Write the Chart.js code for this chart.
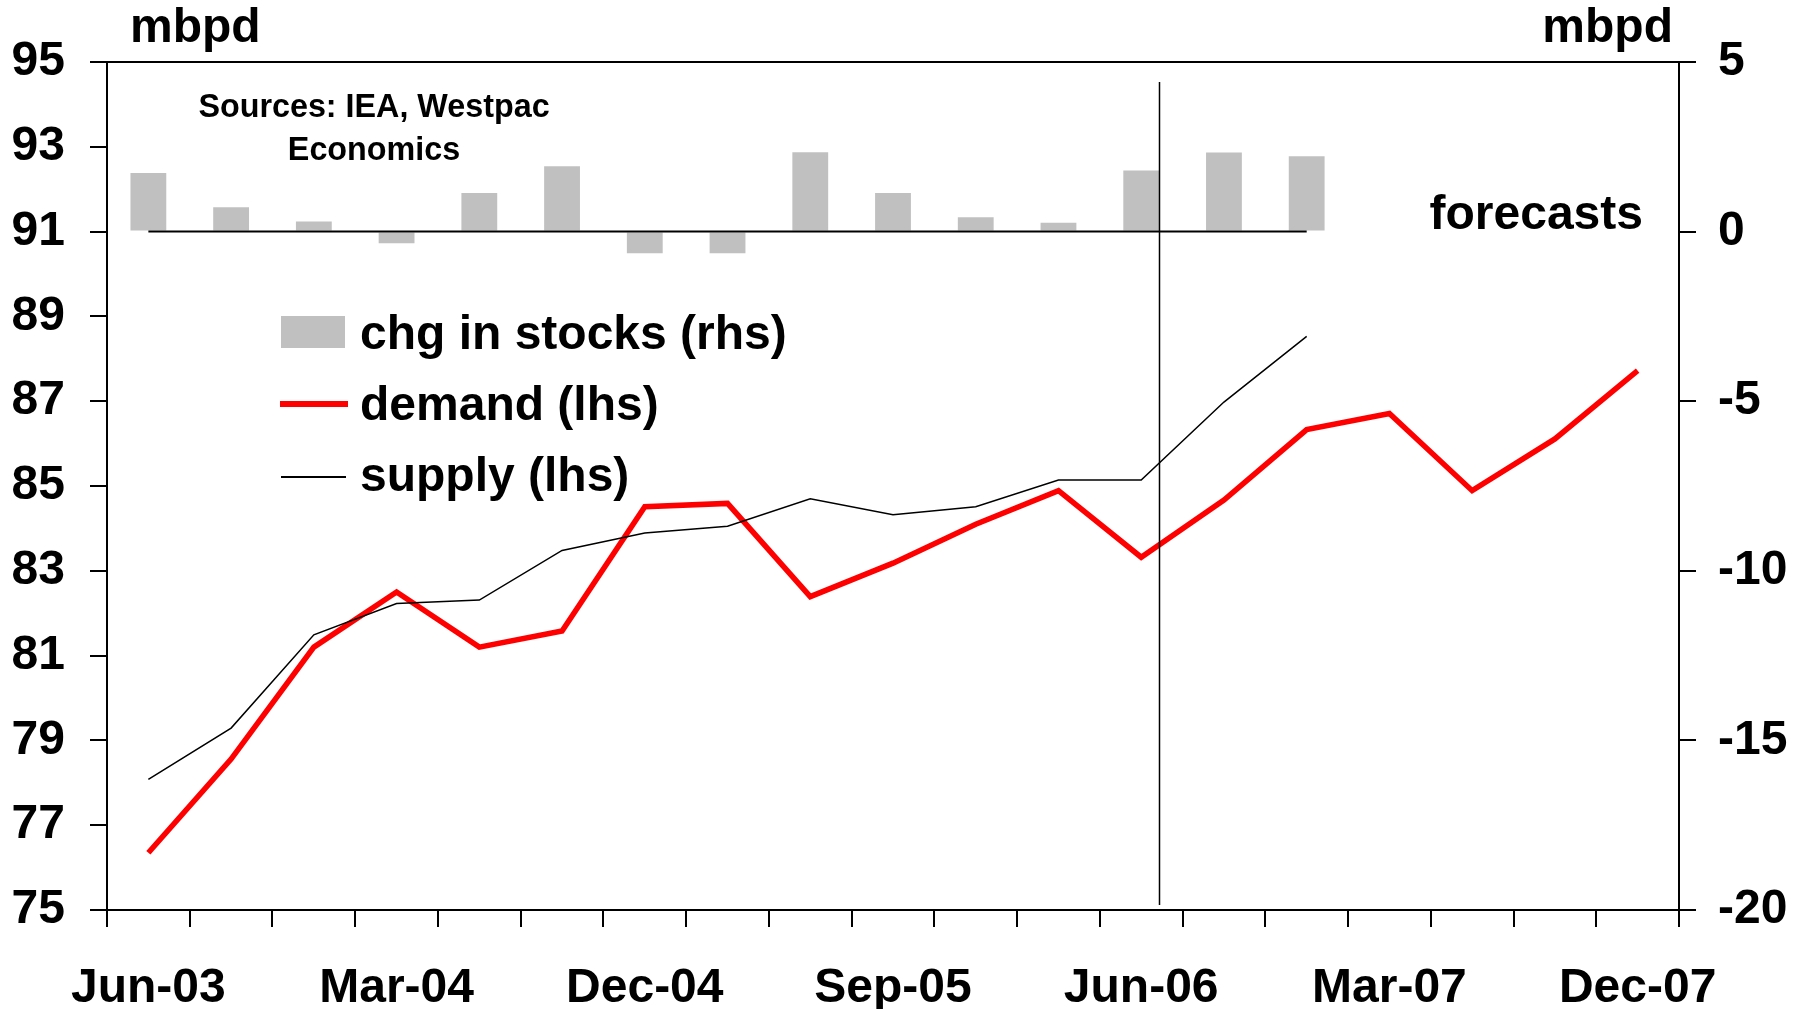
<!DOCTYPE html>
<html>
<head>
<meta charset="utf-8">
<title>World oil demand and supply</title>
<script src="https://cdn.jsdelivr.net/npm/chart.js@4.4.1/dist/chart.umd.min.js"></script>
<style>
  html, body { margin: 0; padding: 0; background: #fff; }
  #wrap { position: relative; width: 1807px; height: 1009px; overflow: hidden; }
  #chart { position: absolute; left: 0; top: 0; }
  .txt {
    position: absolute;
    font-family: "Liberation Sans", Arial, sans-serif;
    font-weight: bold;
    font-size: 48px;
    line-height: 1;
    color: #000;
    white-space: nowrap;
  }
  .src {
    position: absolute;
    left: 374px;
    top: 85px;
    transform: translateX(-50%);
    text-align: center;
    font-family: "Liberation Sans", Arial, sans-serif;
    font-weight: bold;
    font-size: 32.3px;
    line-height: 43px;
    white-space: nowrap;
  }
  .mark { position: absolute; }
</style>
</head>
<body>
<div id="wrap">
  <canvas id="chart" width="1807" height="1009"></canvas>

  <div class="txt" style="left:130px; top:2px;">mbpd</div>
  <div class="txt" style="right:134px; top:2px;">mbpd</div>
  <div class="src">Sources: IEA, Westpac<br>Economics</div>
  <div class="txt" style="right:164px; top:189px;">forecasts</div>

  <!-- legend -->
  <div class="mark" style="left:281px; top:316px; width:64px; height:32px; background:#C0C0C0;"></div>
  <div class="txt" style="left:360px; top:309px;">chg in stocks (rhs)</div>
  <div class="mark" style="left:280px; top:401px; width:68px; height:6px; background:#FF0000;"></div>
  <div class="txt" style="left:360px; top:380px;">demand (lhs)</div>
  <div class="mark" style="left:281px; top:476px; width:65px; height:2px; background:#000;"></div>
  <div class="txt" style="left:360px; top:451px;">supply (lhs)</div>
</div>

<script>
// quarterly categories, Jun-03 .. Dec-07
const quarters = ['Jun-03', 'Sep-03', 'Dec-03', 'Mar-04', 'Jun-04', 'Sep-04', 'Dec-04',
                  'Mar-05', 'Jun-05', 'Sep-05', 'Dec-05', 'Mar-06', 'Jun-06', 'Sep-06',
                  'Dec-06', 'Mar-07', 'Jun-07', 'Sep-07', 'Dec-07'];
// only every third quarter gets a label
const xTickLabels = ['Jun-03', 'Mar-04', 'Dec-04', 'Sep-05', 'Jun-06', 'Mar-07', 'Dec-07'];

// change in stocks, mbpd (rhs)
const stockChange = [1.73, 0.72, 0.30, -0.34, 1.14, 1.93, -0.64, -0.64, 2.34, 1.14,
                     0.42, 0.26, 1.80, 2.33, 2.22];
// demand, mbpd (lhs)
const demand = [76.35, 78.56, 81.20, 82.50, 81.20, 81.58, 84.51, 84.59, 82.39, 83.18,
                84.10, 84.89, 83.32, 84.67, 86.33, 86.71, 84.89, 86.11, 87.72];
// supply, mbpd (lhs)
const supply = [78.08, 79.29, 81.49, 82.23, 82.31, 83.48, 83.89, 84.05, 84.70, 84.32,
                84.51, 85.14, 85.14, 86.98, 88.53];

// axis ranges
const lhsRange = [75, 95, 2];
const rhsRange = [-20, 5, 5];

// last actual quarter, forecasts after this
const lastActual = 'Jun-06';

const tickFont = { family: '"Liberation Sans", Arial, sans-serif', size: 48, weight: 'bold' };

// extra lines: zero line for the bars, top frame, forecast divider
const extrasPlugin = {
    id: 'extras',
    afterDatasetDraw(chart, args) {
        if (args.meta.type !== 'bar') return;
        const ctx = chart.ctx;
        const x = chart.scales.x;
        const y0 = chart.scales.y1.getPixelForValue(0);
        ctx.save();
        ctx.strokeStyle = '#000';
        ctx.lineWidth = 2;
        ctx.beginPath();
        ctx.moveTo(x.getPixelForValue(0), y0);
        ctx.lineTo(x.getPixelForValue(stockChange.length - 1), y0);
        ctx.stroke();
        ctx.restore();
    },
    afterDraw(chart) {
        const ctx = chart.ctx;
        const area = chart.chartArea;
        ctx.save();
        ctx.strokeStyle = '#000';
        // top frame
        ctx.lineWidth = 2;
        ctx.beginPath();
        ctx.moveTo(area.left, area.top);
        ctx.lineTo(area.right, area.top);
        ctx.stroke();
        // forecast divider at right edge of last actual bar
        const bar = chart.getDatasetMeta(0).data[quarters.indexOf(lastActual)];
        const xf = Math.round(bar.x + bar.width / 2) + 0.5;
        ctx.lineWidth = 1.5;
        ctx.beginPath();
        ctx.moveTo(xf, area.top + 20);
        ctx.lineTo(xf, area.bottom - 5);
        ctx.stroke();
        ctx.restore();
    }
};

const ctx = document.getElementById('chart').getContext('2d');
new Chart(ctx, {
    type: 'bar',
    data: {
        labels: quarters,
        datasets: [
            {
                type: 'bar',
                label: 'chg in stocks (rhs)',
                data: stockChange,
                yAxisID: 'y1',
                backgroundColor: '#C0C0C0',
                barPercentage: 0.433,
                categoryPercentage: 1,
                order: 3
            },
            {
                type: 'line',
                label: 'demand (lhs)',
                data: demand,
                yAxisID: 'y',
                borderColor: '#FF0000',
                borderWidth: 5.5,
                borderJoinStyle: 'miter',
                pointRadius: 0,
                tension: 0,
                order: 2
            },
            {
                type: 'line',
                label: 'supply (lhs)',
                data: supply,
                yAxisID: 'y',
                borderColor: '#000000',
                borderWidth: 1.5,
                pointRadius: 0,
                tension: 0,
                order: 1
            }
        ]
    },
    options: {
        responsive: false,
        animation: false,
        layout: { padding: { top: 62, left: 0, right: 0, bottom: 0 } },
        plugins: {
            legend: { display: false },
            tooltip: { enabled: false }
        },
        scales: {
            x: {
                type: 'category',
                offset: true,
                grid: { offset: true, drawOnChartArea: false, tickLength: 17, color: '#000', lineWidth: 2 },
                border: { display: true, color: '#000', width: 2 },
                ticks: {
                    autoSkip: false,
                    maxRotation: 0,
                    color: '#000',
                    font: tickFont,
                    padding: 33,
                    callback: function(value) {
                        const lab = this.getLabelForValue(value);
                        return xTickLabels.includes(lab) ? lab : '';
                    }
                },
                afterFit: (scale) => { scale.height = 99; }
            },
            y: {
                position: 'left',
                min: lhsRange[0],
                max: lhsRange[1],
                grid: { drawOnChartArea: false, tickLength: 17, color: '#000', lineWidth: 2 },
                border: { display: true, color: '#000', width: 2 },
                ticks: { stepSize: lhsRange[2], color: '#000', font: tickFont, padding: 25 },
                afterFit: (scale) => { scale.width = 107; }
            },
            y1: {
                position: 'right',
                min: rhsRange[0],
                max: rhsRange[1],
                grid: { drawOnChartArea: false, tickLength: 17, color: '#000', lineWidth: 2 },
                border: { display: true, color: '#000', width: 2 },
                ticks: { stepSize: rhsRange[2], color: '#000', font: tickFont, padding: 22 },
                afterFit: (scale) => { scale.width = 128; }
            }
        }
    },
    plugins: [extrasPlugin]
});
</script>
</body>
</html>
